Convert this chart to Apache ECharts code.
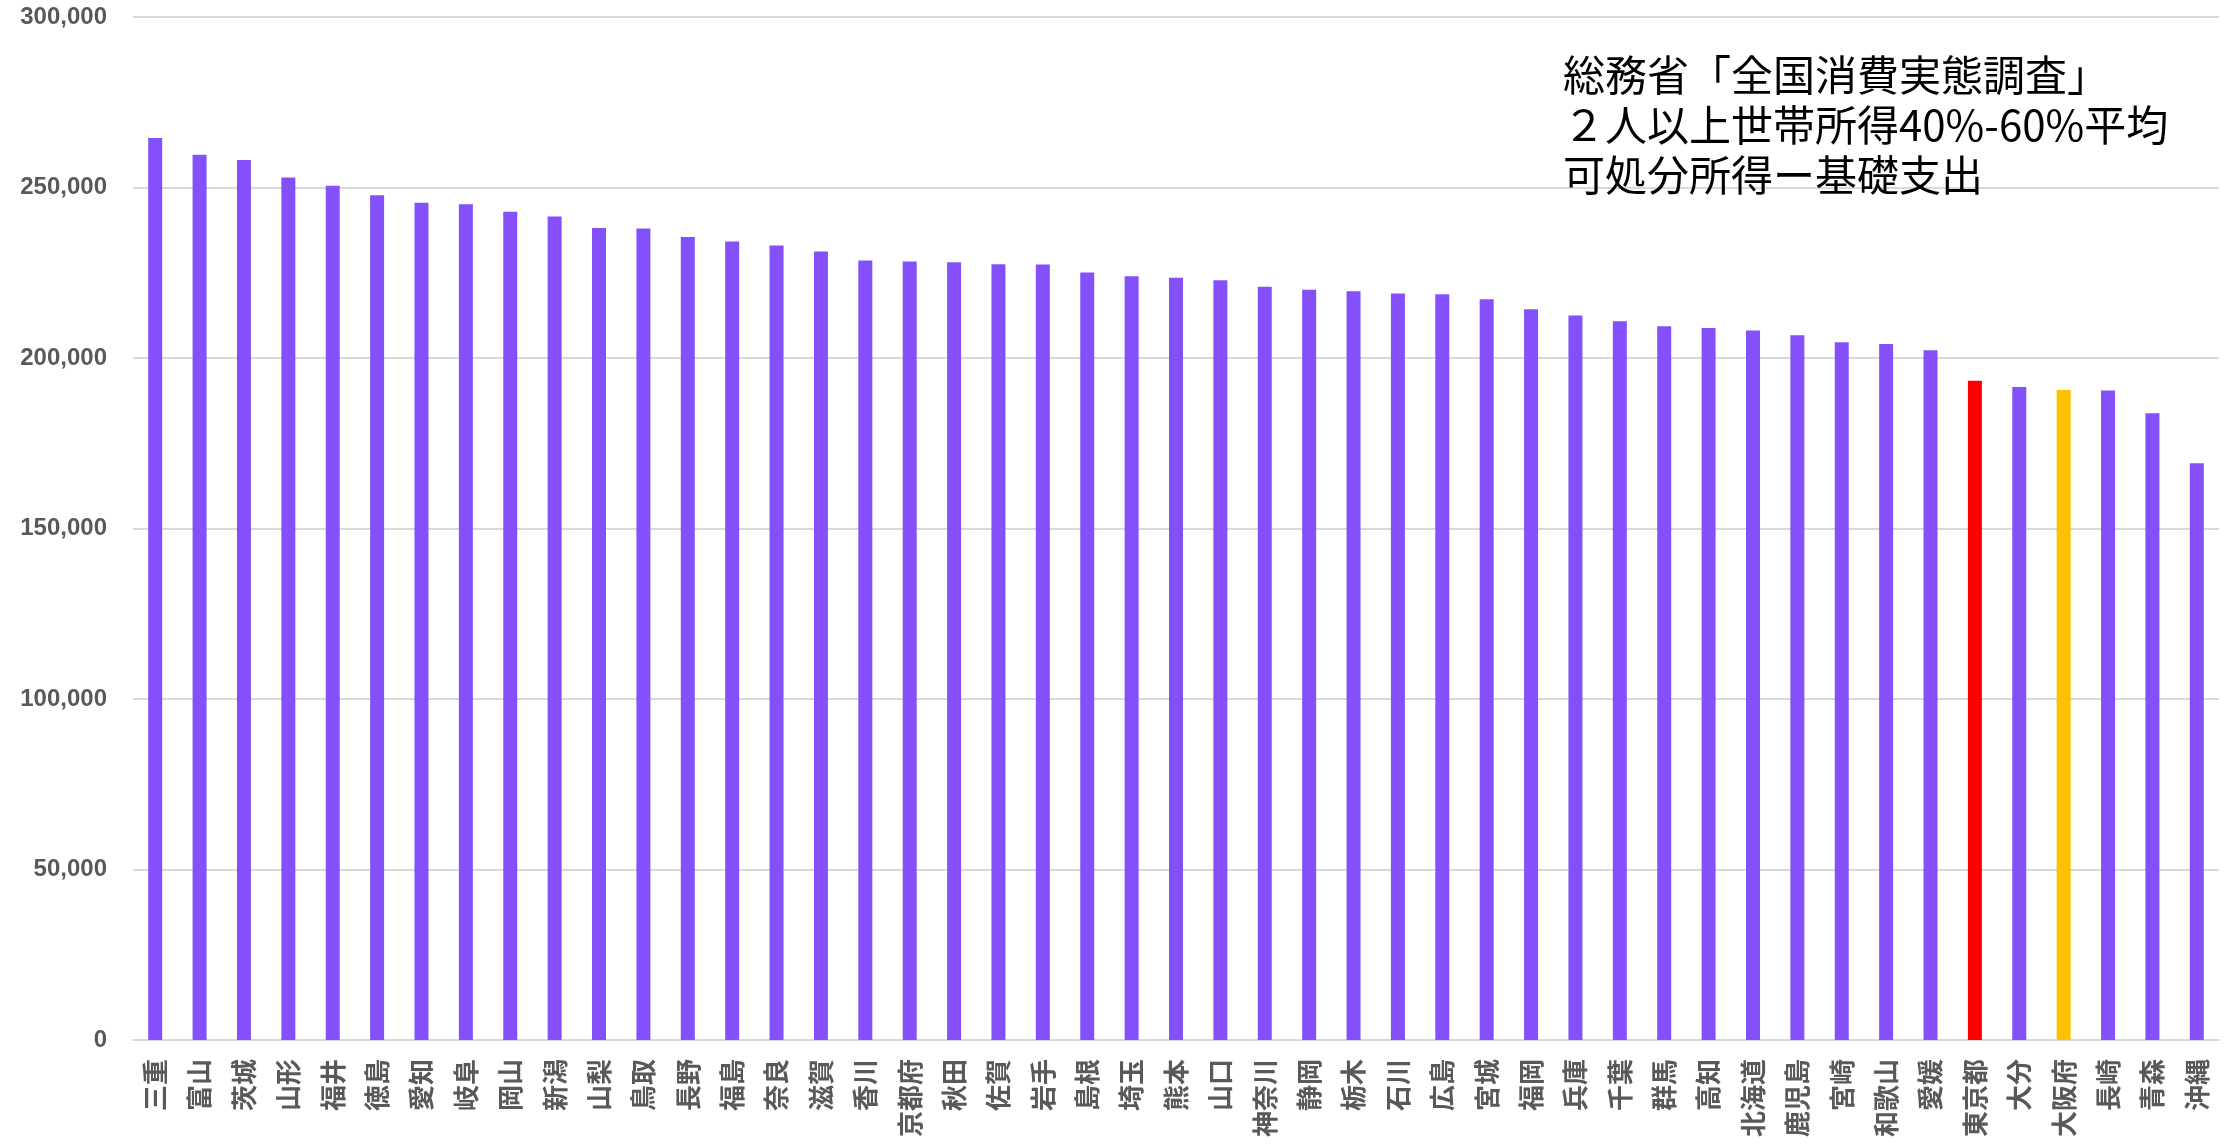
<!DOCTYPE html>
<html>
<head>
<meta charset="utf-8">
<script src="https://cdn.jsdelivr.net/npm/echarts@6/dist/echarts.min.js"></script>
<style>
  html, body { margin: 0; padding: 0; background: #ffffff; }
  #chart { width: 2228px; height: 1148px; }
</style>
</head>
<body>
<div id="chart"></div>
<script>
// Prefectures, sorted by disposable income minus basic expenditure (yen / month)
const prefectures = [
  '三重', '富山', '茨城', '山形', '福井', '徳島', '愛知', '岐阜', '岡山', '新潟',
  '山梨', '鳥取', '長野', '福島', '奈良', '滋賀', '香川', '京都府', '秋田', '佐賀',
  '岩手', '島根', '埼玉', '熊本', '山口', '神奈川', '静岡', '栃木', '石川', '広島',
  '宮城', '福岡', '兵庫', '千葉', '群馬', '高知', '北海道', '鹿児島', '宮崎', '和歌山',
  '愛媛', '東京都', '大分', '大阪府', '長崎', '青森', '沖縄'
];

const values = [
  264500, 259600, 258100, 252900, 250500, 247700, 245500, 245100, 242900, 241500,
  238100, 238000, 235500, 234200, 233000, 231200, 228600, 228300, 228100, 227500,
  227400, 225100, 224000, 223500, 222800, 220900, 220000, 219600, 218900, 218700,
  217200, 214300, 212500, 210800, 209300, 208800, 208100, 206700, 204600, 204100,
  202300, 193300, 191500, 190600, 190500, 183800, 169100
];

// Prefectures drawn in a highlight colour
const highlights = { '東京都': '#FF0000', '大阪府': '#FFC000' };

const yTicks = { min: 0, max: 300000, interval: 50000 };

const noteLines = [
  '総務省「全国消費実態調査」',
  '２人以上世帯所得40%-60%平均',
  '可処分所得ー基礎支出'
];

const barColor = '#8450FC';

const chart = echarts.init(document.getElementById('chart'), null, { renderer: 'canvas' });

chart.setOption({
  backgroundColor: '#ffffff',
  animation: false,
  grid: { left: 133, right: 9, top: 17, bottom: 108, containLabel: false },
  xAxis: {
    type: 'category',
    data: prefectures,
    axisLine: { show: true, lineStyle: { color: '#d9d9d9', width: 2 } },
    axisTick: { show: false },
    axisLabel: {
      interval: 0,
      rotate: 90,
      margin: 19,
      color: '#595959',
      fontSize: 26,
      fontWeight: 'bold',
      fontFamily: '"Noto Sans CJK JP", sans-serif'
    }
  },
  yAxis: {
    type: 'value',
    min: yTicks.min,
    max: yTicks.max,
    interval: yTicks.interval,
    axisLine: { show: false },
    axisTick: { show: false },
    splitLine: { lineStyle: { color: '#d9d9d9', width: 2 } },
    axisLabel: {
      margin: 26,
      color: '#595959',
      fontSize: 24,
      fontWeight: 'bold',
      fontFamily: '"Liberation Sans", Arial, sans-serif',
      formatter: v => v.toLocaleString('en-US')
    }
  },
  series: [{
    type: 'bar',
    barWidth: 14,
    data: values.map((v, i) => ({
      value: v,
      itemStyle: { color: highlights[prefectures[i]] || barColor }
    }))
  }],
  graphic: [{
    type: 'text',
    left: 1563,
    top: 50,
    z: 10,
    style: {
      text: noteLines.join('\n'),
      fill: '#000000',
      font: '42px "Noto Sans CJK JP", sans-serif',
      lineHeight: 50
    }
  }]
});
</script>
</body>
</html>
